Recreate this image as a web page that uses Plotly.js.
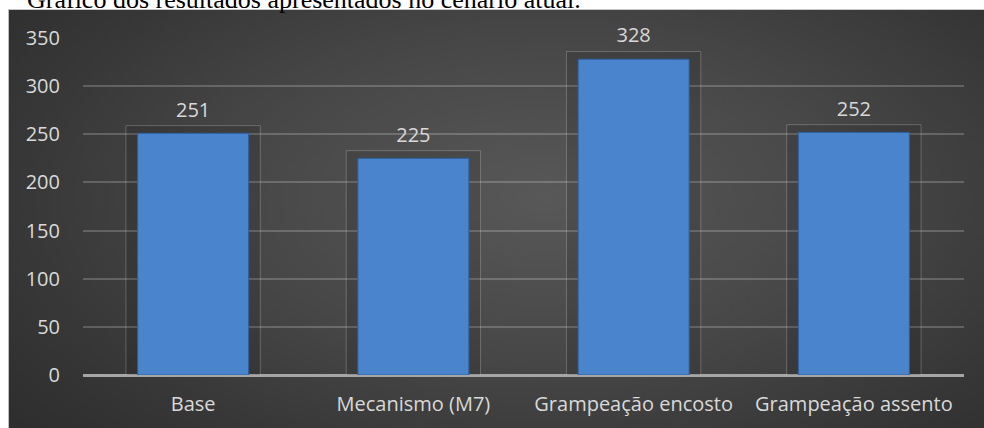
<!DOCTYPE html>
<html>
<head>
<meta charset="utf-8">
<script src="https://cdn.plot.ly/plotly-3.0.1.min.js"></script>
<style>
  html, body { margin: 0; padding: 0; background: #ffffff; }
  #wrap { position: relative; width: 984px; height: 428px; overflow: hidden; background: #ffffff; }
  #panel { position: absolute; left: 8px; top: 9px; width: 976px; height: 419px;
    background: radial-gradient(ellipse 70% 85% at 55% 45%, #585858 0%, #474747 45%, #363636 80%, #2e2e2e 100%);
    border-top: 1px solid #c8c8c8; border-left: 1px solid #bdbdbd; box-sizing: border-box; }
  #chart { position: absolute; left: 0; top: 0; width: 984px; height: 428px; }
</style>
</head>
<body>
<div id="wrap">
  <div id="chart-caption-spacer"></div>
  <div id="panel"></div>
  <div id="chart"></div>
</div>
<script>
const categories = ["Base", "Mecanismo (M7)", "Grampeação encosto", "Grampeação assento"];
const values = [251, 225, 328, 252];
const tickValues = [0, 50, 100, 150, 200, 250, 300, 350];
const captionText = "Gráfico dos resultados apresentados no cenário atual.";

const labelColor = "#d9d9d9";
const fontFamily = "'Open Sans', 'Noto Sans', sans-serif";

const frameTrace = {
  type: "bar",
  x: categories,
  y: values.map(v => v + 9),
  base: -1,
  width: 0.61,
  marker: { color: "rgba(0,0,0,0.10)", line: { color: "rgba(255,255,255,0.22)", width: 1 } },
  text: values.map(String),
  textposition: "outside",
  textfont: { family: fontFamily, size: 20, color: labelColor },
  cliponaxis: false,
  hoverinfo: "skip"
};

const barTrace = {
  type: "bar",
  x: categories,
  y: values,
  width: 0.504,
  marker: { color: "#4a84cc", line: { color: "#2c5f9e", width: 1 } },
  hovertemplate: "%{x}: %{y}<extra></extra>"
};

const layout = {
  width: 984,
  height: 428,
  margin: { l: 83, r: 20, t: 38, b: 53 },
  paper_bgcolor: "rgba(0,0,0,0)",
  plot_bgcolor: "rgba(0,0,0,0)",
  showlegend: false,
  barmode: "overlay",
  font: { family: fontFamily, color: labelColor, size: 20 },
  xaxis: {
    type: "category",
    showgrid: false,
    showline: false,
    zeroline: false,
    ticks: "outside",
    ticklen: 11,
    tickcolor: "rgba(0,0,0,0)",
    tickfont: { family: fontFamily, size: 20, color: labelColor },
    fixedrange: true
  },
  yaxis: {
    range: [0, 350],
    tickvals: tickValues,
    ticktext: tickValues.map(String),
    showgrid: true,
    gridcolor: "rgba(255,255,255,0.20)",
    gridwidth: 2,
    zeroline: true,
    zerolinecolor: "#a6a6a6",
    zerolinewidth: 3,
    showline: false,
    ticks: "outside",
    ticklen: 18,
    tickcolor: "rgba(0,0,0,0)",
    tickfont: { family: fontFamily, size: 20, color: labelColor },
    fixedrange: true
  },
  annotations: [{
    text: captionText,
    xref: "paper", yref: "paper",
    x: -0.066, y: 1.064,
    xanchor: "left", yanchor: "bottom",
    showarrow: false,
    font: { family: "'Liberation Serif', 'Times New Roman', serif", size: 26, color: "#000000" }
  }]
};

Plotly.newPlot("chart", [frameTrace, barTrace], layout, { displayModeBar: false, staticPlot: true });
</script>
</body>
</html>
